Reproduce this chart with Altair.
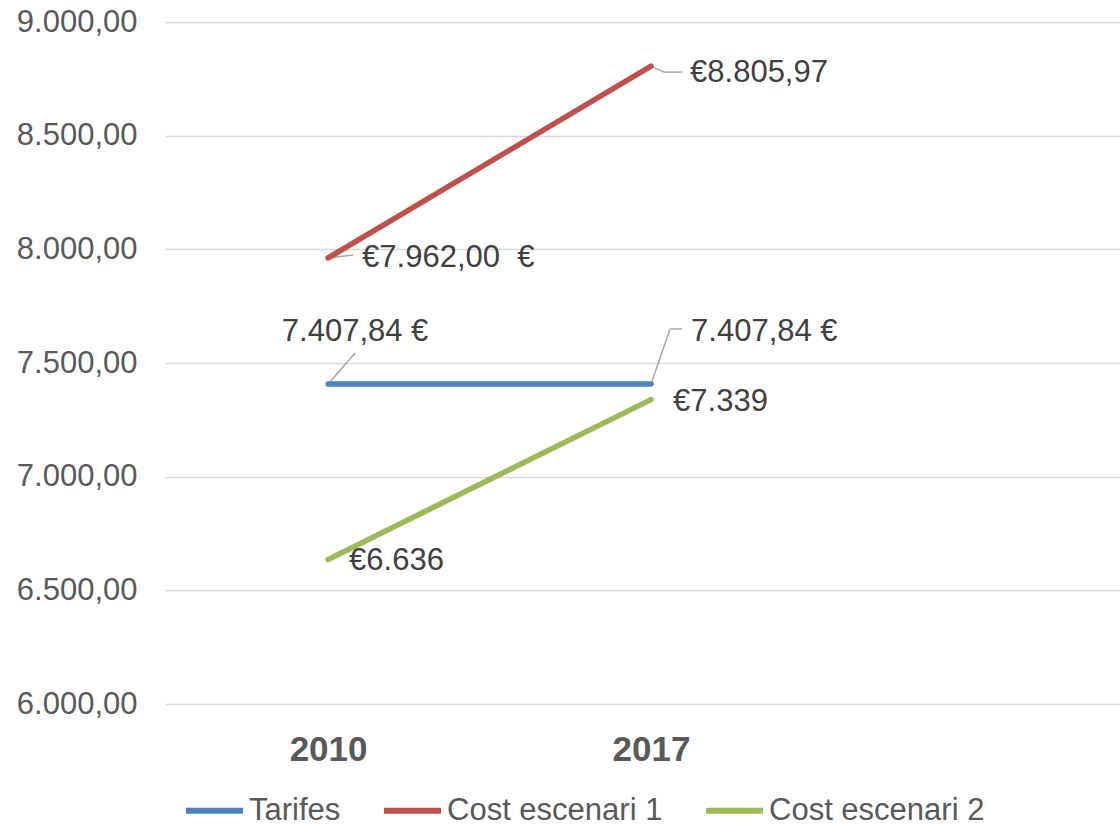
import altair as alt
import pandas as pd

# ---- data ----
years = ["2010", "2017"]
series = ["Tarifes", "Cost escenari 1", "Cost escenari 2"]
colors = ["#4F81BD", "#C0504D", "#9BBB59"]
tarifes = [7407.84, 7407.84]
cost1 = [7962.00, 8805.97]
cost2 = [6636, 7339]
tarifes_labels = ["7.407,84 €", "7.407,84 €"]
cost1_labels = ["€7.962,00\u00a0 €", "€8.805,97"]
cost2_labels = ["€6.636", "€7.339"]

rows = []
for name, vals, labs in [(series[0], tarifes, tarifes_labels),
                         (series[1], cost1, cost1_labels),
                         (series[2], cost2, cost2_labels)]:
    for i, (v, l) in enumerate(zip(vals, labs)):
        rows.append({"series": name, "idx": i, "year": years[i], "value": v, "label": l})
df = pd.DataFrame(rows)

FONT = "Liberation Sans"

# ---- style: label offsets (px) and leader segments (px offsets from point) ----
label_style = {
    ("Tarifes", 0): dict(dx=27, dy=-52, align="center"),
    ("Tarifes", 1): dict(dx=40, dy=-52, align="left"),
    ("Cost escenari 1", 0): dict(dx=34, dy=0, align="left"),
    ("Cost escenari 1", 1): dict(dx=39, dy=7, align="left"),
    ("Cost escenari 2", 0): dict(dx=21, dy=2, align="left"),
    ("Cost escenari 2", 1): dict(dx=22, dy=2, align="left"),
}
leaders = [
    ("Tarifes", 0, (0, 0), (27, -31)),
    ("Tarifes", 1, (0, 0), (19, -55)),
    ("Tarifes", 1, (19, -55), (31, -55)),
    ("Cost escenari 1", 0, (0, 0), (25, -3)),
    ("Cost escenari 1", 1, (0, 0), (13, 6)),
    ("Cost escenari 1", 1, (13, 6), (31, 6)),
]

xscale = alt.Scale(domain=[-0.505, 2.452], nice=False, zero=False)
yscale = alt.Scale(domain=[6000, 9000], nice=False, zero=False)

label_expr_x = " : ".join(
    [f"datum.value == {i} ? '{y}'" for i, y in enumerate(years)]) + " : ''"

x_enc = alt.X("idx:Q", scale=xscale, axis=alt.Axis(
    values=list(range(len(years))), labelExpr=label_expr_x, title=None,
    grid=False, domain=False, ticks=False, labelFontSize=35, labelFontWeight="bold",
    labelColor="#595959", labelFont=FONT, labelPadding=28))
y_enc = alt.Y("value:Q", scale=yscale, axis=alt.Axis(
    values=[6000, 6500, 7000, 7500, 8000, 8500, 9000],
    labelExpr="replace(replace(replace(format(datum.value, ',.2f'), ',', '#'), '.', ','), '#', '.')",
    title=None, domain=False, ticks=False, gridColor="#D9D9D9", gridWidth=1.5,
    labelFontSize=31, labelColor="#595959", labelFont=FONT, labelPadding=28))

base = alt.Chart(df)

layers = []
for (s, i, (x0, y0), (x1, y1)) in leaders:
    layers.append(
        base.transform_filter(f"datum.series == '{s}' && datum.idx == {i}")
        .mark_rule(color="#A6A6A6", strokeWidth=1.5,
                   xOffset=x0, yOffset=y0, x2Offset=x1, y2Offset=y1)
        .encode(x=x_enc, y=y_enc, x2="idx:Q", y2="value:Q")
    )

lines = base.mark_line(strokeWidth=5.5, strokeCap="round").encode(
    x=x_enc, y=y_enc,
    color=alt.Color("series:N", scale=alt.Scale(domain=series, range=colors),
                    legend=alt.Legend(orient="none", legendX=18, legendY=757,
                                      direction="horizontal", title=None,
                                      symbolType="stroke", symbolSize=3249,
                                      symbolStrokeWidth=6, labelFontSize=31,
                                      labelColor="#595959", labelFont=FONT,
                                      columnPadding=31, labelOffset=3,
                                      labelLimit=400)),
    order="idx:Q",
)
layers.append(lines)

for (s, i), st in label_style.items():
    layers.append(
        base.transform_filter(f"datum.series == '{s}' && datum.idx == {i}")
        .mark_text(fontSize=31, font=FONT, color="#404040", baseline="middle",
                   align=st["align"], dx=st["dx"], dy=st["dy"])
        .encode(x=x_enc, y=y_enc, text="label:N")
    )

chart = alt.layer(*layers).properties(
    width=955, height=682,
    padding={"left": 165, "top": 22, "right": 0, "bottom": 121},
    autosize=alt.AutoSizeParams(type="none"),
    background="white",
).configure_view(strokeWidth=0, stroke=None)

chart.save("out.html", embed_options={"renderer": "svg", "actions": False})
